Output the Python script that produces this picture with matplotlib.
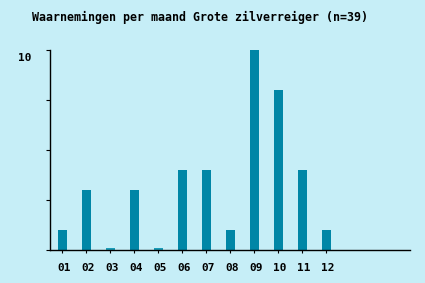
import matplotlib
matplotlib.use("Agg")
import matplotlib.pyplot as plt
import matplotlib.transforms as mtransforms
import numpy as np

# counts per month
months = ['01', '02', '03', '04', '05', '06', '07', '08', '09', '10', '11', '12']
counts = [1, 3, 0, 3, 0, 4, 4, 1, 10, 8, 4, 1]
title = "Waarnemingen per maand Grote zilverreiger (n=39)"

bg = '#c6eef7'
bar_col = '#0086a6'
zero_col = '#1a9cb8'

fig = plt.figure(figsize=(4.25, 2.83), dpi=100, facecolor=bg)
ax = fig.add_axes([50/425, 33/283, 360/425, 200/283])
ax.set_facecolor(bg)

x = np.arange(1, len(months) + 1)
vals = np.array(counts, dtype=float)
# empty months shown as a thin stub on the baseline
stub = np.where(vals == 0, 0.08, 0)
ax.bar(x, np.where(vals == 0, 0, vals), width=0.375, color=bar_col, zorder=2)
ax.bar(x, stub, width=0.375, color=zero_col, zorder=2)

ax.set_xlim(0.5, 15.5)
ax.set_ylim(0, 10)
for s in ['top', 'right']:
    ax.spines[s].set_visible(False)
for s in ['left', 'bottom']:
    ax.spines[s].set_linewidth(1.0)
    ax.spines[s].set_color('black')

font = dict(family='DejaVu Sans Mono', weight='bold')
ax.set_xticks(x)
ax.set_xticklabels(months, fontsize=8, **font)
ax.set_yticks([0, 2.5, 5, 7.5, 10])
ax.set_yticklabels(['', '', '', '', '10'], fontsize=8, **font)
ax.tick_params(axis='x', length=2.5, width=0.8, pad=7)
ax.tick_params(axis='y', length=3, width=0.8, pad=10)

for lab in ax.get_yticklabels():
    lab.set_transform(lab.get_transform() + mtransforms.ScaledTranslation(0, -0.07, fig.dpi_scale_trans))
for lab in ax.get_xticklabels():
    lab.set_transform(lab.get_transform() + mtransforms.ScaledTranslation(0.02, 0, fig.dpi_scale_trans))

fig.text(32/425, 1 - 17/283, title, ha='left', va='center', fontsize=8.4, **font)

fig.savefig('out.png', dpi=100, facecolor=bg)
